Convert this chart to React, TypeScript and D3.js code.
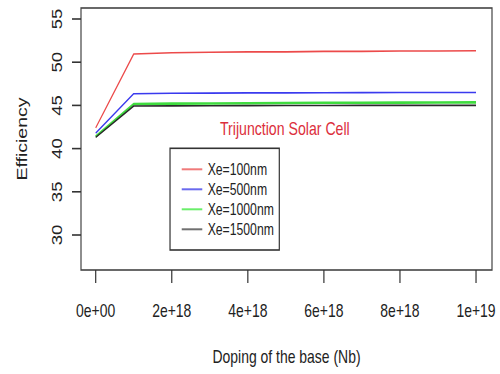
import React from "react";
import * as d3 from "d3";

const doping = [0, 1e18, 2e18, 3e18, 4e18, 5e18, 6e18, 7e18, 8e18, 9e18, 1e19];
const eff100 = [42.4, 50.95, 51.1, 51.15, 51.2, 51.2, 51.25, 51.25, 51.3, 51.3, 51.33];
const eff500 = [41.8, 46.35, 46.4, 46.42, 46.45, 46.45, 46.47, 46.48, 46.5, 46.5, 46.5];
const eff1000 = [41.4, 45.16, 45.2, 45.22, 45.25, 45.27, 45.3, 45.3, 45.32, 45.33, 45.35];
const eff1500 = [41.3, 44.93, 44.95, 44.96, 44.97, 44.98, 44.99, 45.0, 45.0, 45.0, 45.0];
const seriesNames = ["Xe=100nm", "Xe=500nm", "Xe=1000nm", "Xe=1500nm"];
const seriesColors = ["#ec4a4a", "#3a3aee", "#3fdc3f", "#2a2a2a"];
const legendColors = ["#f07a7a", "#6a6aee", "#6aee6a", "#707070"];
const seriesWidths = [1.6, 1.6, 2.6, 1.6];
const xTicks = [0, 2e18, 4e18, 6e18, 8e18, 1e19];
const xTickLabels = ["0e+00", "2e+18", "4e+18", "6e+18", "8e+18", "1e+19"];
const yTicks = [30, 35, 40, 45, 50, 55];

const SX = 0.75;
const FONT = "'Liberation Sans', Arial, Helvetica, sans-serif";

export default function App() {
  const x = d3.scaleLinear().domain([0, 1e19]).range([127.6, 634.7]);
  const y = d3.scaleLinear().domain([30, 55]).range([235, 19]);
  const line = d3
    .line<[number, number]>()
    .x((d) => x(d[0]))
    .y((d) => y(d[1]));
  const all = [eff100, eff500, eff1000, eff1500];
  const box = { l: 108, r: 656, t: 8, b: 270 };
  const legend = { l: 226.7, r: 372.4, t: 148.3, b: 250 };
  const legendY = [169.3, 189.3, 209.3, 229.3];

  return (
    <svg
      width={500}
      height={374}
      style={{ position: "absolute", left: 0, top: 0, background: "#fff" }}
    >
      <rect x={0} y={0} width={500} height={374} fill="#fff" />
      <g transform={`scale(${SX},1)`} fontFamily={FONT} fill="#222">
        {all.map((vals, i) => (
          <path
            key={i}
            d={line(doping.map((d, j) => [d, vals[j]] as [number, number])) || ""}
            fill="none"
            stroke={seriesColors[i]}
            strokeWidth={seriesWidths[i]}
            strokeLinejoin="round"
          />
        ))}
        <rect
          x={box.l}
          y={box.t}
          width={box.r - box.l}
          height={box.b - box.t}
          fill="none"
          stroke="#444"
          strokeWidth={1.6}
        />
        {xTicks.map((t, i) => (
          <g key={i}>
            <line x1={x(t)} x2={x(t)} y1={box.b} y2={283} stroke="#333" strokeWidth={1.6} />
            <text x={x(t)} y={316.7} textAnchor="middle" fontSize={18.6}>
              {xTickLabels[i]}
            </text>
          </g>
        ))}
        {yTicks.map((t, i) => (
          <g key={i}>
            <line x1={96} x2={box.l} y1={y(t)} y2={y(t)} stroke="#333" strokeWidth={1.6} />
            <text
              x={82.3}
              y={y(t)}
              textAnchor="middle"
              fontSize={18.6}
              transform={`rotate(-90, 82.3, ${y(t)})`}
            >
              {t}
            </text>
          </g>
        ))}
        <text x={382} y={363.3} textAnchor="middle" fontSize={18.6}>
          Doping of the base (Nb)
        </text>
        <text
          x={36.4}
          y={139}
          textAnchor="middle"
          fontSize={19.5}
          transform="rotate(-90, 36.4, 139)"
        >
          Efficiency
        </text>
        <text
          x={293.3}
          y={135}
          fontSize={19}
          fill="#dc2f3c"
          textLength={173}
          lengthAdjust="spacingAndGlyphs"
        >
          Trijunction Solar Cell
        </text>
        <rect
          x={legend.l}
          y={legend.t}
          width={legend.r - legend.l}
          height={legend.b - legend.t}
          fill="#fff"
          stroke="#333"
          strokeWidth={1.6}
        />
        {seriesNames.map((n, i) => (
          <g key={n}>
            <line
              x1={242.3}
              x2={269.7}
              y1={legendY[i]}
              y2={legendY[i]}
              stroke={legendColors[i]}
              strokeWidth={2}
            />
            <text x={276.9} y={legendY[i] + 5.8} fontSize={16.3}>
              {n}
            </text>
          </g>
        ))}
      </g>
    </svg>
  );
}
